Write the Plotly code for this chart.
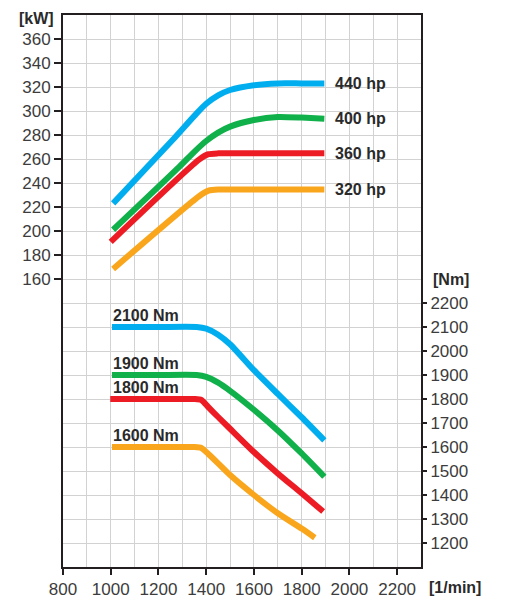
import plotly.graph_objects as go

# Power curves (kW) vs engine speed (1/min)
rpm_440 = [1010, 1260, 1360, 1400, 1450, 1500, 1600, 1700, 1800, 1895]
kw_440 = [223, 276, 298, 306, 313, 317.5, 321.5, 323, 323, 323]
rpm_400 = [1010, 1290, 1350, 1400, 1450, 1500, 1600, 1700, 1800, 1895]
kw_400 = [201, 254, 266, 275, 282, 287, 292.5, 295, 294.5, 293.6]
rpm_360 = [1000, 1370, 1410, 1450, 1600, 1895]
kw_360 = [191, 259.5, 264, 264.7, 264.7, 264.7]
rpm_320 = [1010, 1370, 1410, 1450, 1600, 1895]
kw_320 = [168.4, 229, 233.6, 234.5, 234.5, 234.5]

# Torque curves (Nm)
rpm_2100 = [1005, 1200, 1360, 1400, 1450, 1500, 1600, 1700, 1800, 1895]
nm_2100 = [2100, 2100, 2100, 2093, 2068, 2028, 1920, 1821, 1724, 1628]
rpm_1900 = [1005, 1200, 1360, 1400, 1450, 1500, 1600, 1700, 1800, 1895]
nm_1900 = [1900, 1900, 1900, 1892, 1868, 1834, 1755, 1669, 1573, 1476]
rpm_1800 = [998, 1200, 1350, 1380, 1410, 1450, 1500, 1600, 1700, 1800, 1890]
nm_1800 = [1800, 1800, 1800, 1796, 1765, 1725, 1676, 1579, 1490, 1407, 1331]
rpm_1600 = [1005, 1200, 1350, 1380, 1410, 1450, 1500, 1600, 1700, 1800, 1855]
nm_1600 = [1600, 1600, 1600, 1596, 1570, 1532, 1483, 1400, 1324, 1260, 1222]

power_labels = ["440 hp", "400 hp", "360 hp", "320 hp"]
torque_labels = ["2100 Nm", "1900 Nm", "1800 Nm", "1600 Nm"]

x_ticks = [800, 1000, 1200, 1400, 1600, 1800, 2000, 2200]
kw_ticks = [160, 180, 200, 220, 240, 260, 280, 300, 320, 340, 360]
nm_ticks = [1200, 1300, 1400, 1500, 1600, 1700, 1800, 1900, 2000, 2100, 2200]

BLUE = "#00AEEF"
GREEN = "#10B04A"
RED = "#ED1C24"
ORANGE = "#F9A61C"
AX = "#231F20"
GRID = "#D2D2D2"
TXT = "#3C3C3C"
colors = [BLUE, GREEN, RED, ORANGE]

fig = go.Figure()
power = [(rpm_440, kw_440), (rpm_400, kw_400), (rpm_360, kw_360), (rpm_320, kw_320)]
torque = [(rpm_2100, nm_2100), (rpm_1900, nm_1900), (rpm_1800, nm_1800), (rpm_1600, nm_1600)]

for (x, y), c in zip(power, colors):
    fig.add_trace(go.Scatter(x=x, y=y, mode="lines", yaxis="y",
                             line=dict(color=c, width=6, shape="spline", smoothing=0.6),
                             hoverinfo="skip", showlegend=False))
for (x, y), c in zip(torque, colors):
    fig.add_trace(go.Scatter(x=x, y=y, mode="lines", yaxis="y2",
                             line=dict(color=c, width=6, shape="spline", smoothing=0.6),
                             hoverinfo="skip", showlegend=False))

lab_font = dict(family="Liberation Sans Narrow, Liberation Sans, Arial", size=16, color="#2A2A2A")
for (x, y), t in zip(power, power_labels):
    fig.add_annotation(x=1930, y=y[-1], xref="x", yref="y", text="<b>%s</b>" % t,
                       showarrow=False, xanchor="left", yanchor="middle", font=lab_font)
for (x, y), t in zip(torque, torque_labels):
    fig.add_annotation(x=1000, y=y[0], xref="x", yref="y2", text="<b>%s</b>" % t,
                       showarrow=False, xanchor="left", yanchor="bottom", yshift=1, font=lab_font)

# paper coordinates are relative to the plot area (358 x 552 px)
fig.add_annotation(x=-0.075, y=1.0127, xref="paper", yref="paper", text="<b>[kW]</b>",
                   showarrow=False, xanchor="center", yanchor="top", font=lab_font)
fig.add_annotation(x=1.084, y=0.52, xref="paper", yref="paper", text="<b>[Nm]</b>",
                   showarrow=False, xanchor="center", yanchor="middle", font=lab_font)
fig.add_annotation(x=1.095, y=-0.038, xref="paper", yref="paper", text="<b>[1/min]</b>",
                   showarrow=False, xanchor="center", yanchor="middle", font=lab_font)

tick_font = dict(family="Liberation Sans, Arial", size=17, color=TXT)

# the page body adds an 8 px margin, so the figure is offset to match the 509x601 window
fig.update_layout(
    width=493, height=593,
    margin=dict(l=55, r=80, t=7, b=34),
    paper_bgcolor="white", plot_bgcolor="white",
    xaxis=dict(range=[800, 2300], tickvals=x_ticks, ticks="outside", ticklen=6,
               tickwidth=2, tickcolor=AX, showgrid=True, gridcolor=GRID, gridwidth=1,
               minor=dict(tick0=800, dtick=100, showgrid=True, gridcolor=GRID, gridwidth=1, ticks=""),
               showline=True, linecolor=AX, linewidth=2, mirror=True, automargin=False,
               zeroline=False, tickfont=tick_font),
    yaxis=dict(range=[-80, 380], tickvals=kw_ticks, ticks="outside", ticklen=7,
               tickwidth=2, tickcolor=AX, showgrid=True, gridcolor=GRID, gridwidth=1,
               minor=dict(tick0=0, dtick=20, showgrid=True, gridcolor=GRID, gridwidth=1, ticks=""),
               showline=True, linecolor=AX, linewidth=2, mirror=True, automargin=False,
               zeroline=False, tickfont=tick_font),
    yaxis2=dict(range=[1100, 3400], tickvals=nm_ticks, overlaying="y", side="right",
                ticks="outside", ticklen=5, tickwidth=2, tickcolor=AX, showgrid=False,
                showline=False, zeroline=False, automargin=False, tickfont=tick_font),
)

fig.write_html("out.html")
